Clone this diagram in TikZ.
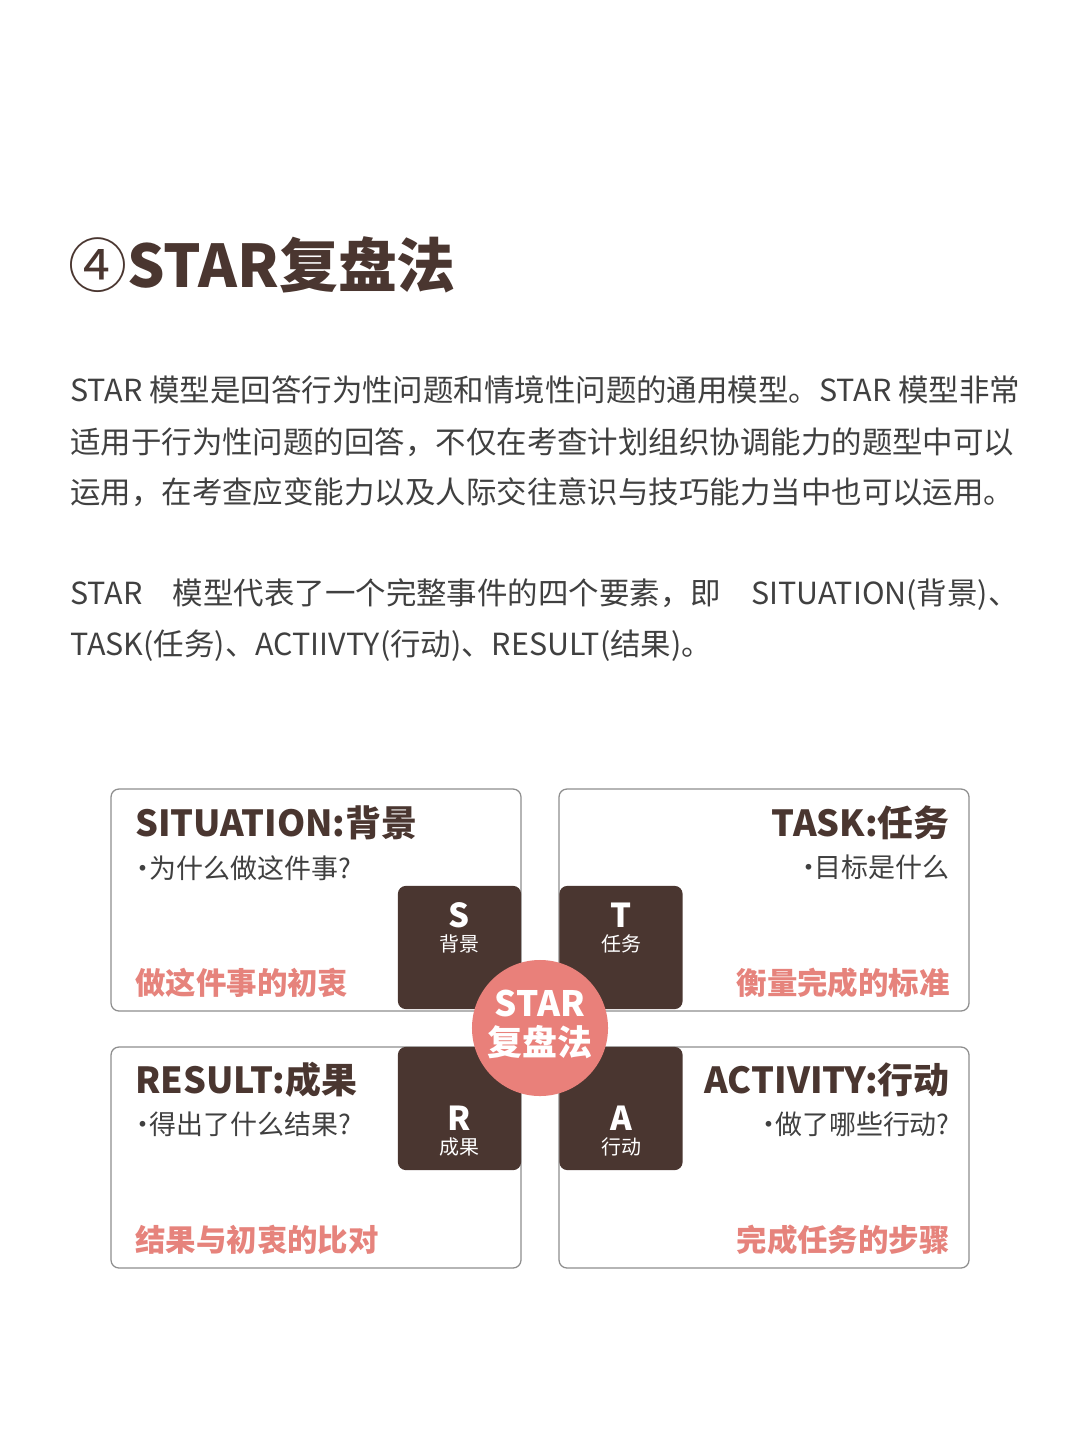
\documentclass[tikz,border=0pt]{standalone}
\usepackage{fontspec}
\setmainfont{Noto Sans CJK SC}
\usetikzlibrary{positioning}
\usepackage{xcolor}

\definecolor{brownD}{HTML}{4A3630}
\definecolor{pinkC}{HTML}{E9807A}
\definecolor{pinkT}{HTML}{E6837C}
\definecolor{bodyG}{HTML}{404040}
\definecolor{edgeG}{HTML}{8E8E8E}

% font size given in reference pixels
\newcommand{\fpx}[1]{\fontsize{\dimexpr #1pt*71/100\relax}{\dimexpr #1pt*85/100\relax}\selectfont}
\newcommand{\dotmark}{\makebox[0.45em]{·}}

\begin{document}
\begin{tikzpicture}[x=0.025cm, y=-0.025cm,
  bodyline/.style={anchor=west, inner sep=0pt, text=bodyG, font=\fpx{30.5}},
  panel/.style={draw=edgeG, line width=0.9pt, rounded corners=0.2cm, fill=white},
  headL/.style={anchor=west, inner sep=0pt, text=brownD, font=\fpx{36}\bfseries},
  headR/.style={headL, anchor=east},
  askL/.style={anchor=west, inner sep=0pt, text=bodyG, font=\fpx{27}},
  askR/.style={askL, anchor=east},
  keyL/.style={anchor=west, inner sep=0pt, text=pinkT, font=\fpx{30.5}\bfseries},
  keyR/.style={keyL, anchor=east},
  letterbox/.style={fill=brownD, rounded corners=0.2cm, minimum size=3.08cm, inner sep=0pt},
  letter/.style={text=white, inner sep=0pt, font=\fpx{33}\bfseries},
  lettersub/.style={text=white, inner sep=0pt, font=\fpx{20}},
  badgetext/.style={text=white, inner sep=0pt, font=\fpx{35}\bfseries}]

  \useasboundingbox[fill=white] (0,0) rectangle (1080,1440);

  % title
  \node[anchor=west, inner sep=0pt, text=brownD, font=\fpx{59}\bfseries] (title) at (68,265) {{\mdseries ④}STAR复盘法};

  % text
  \node[bodyline] (p1a) at (70,390) {STAR 模型是回答行为性问题和情境性问题的通用模型。STAR 模型非常};
  \node[bodyline] (p1b) at (70,442) {适用于行为性问题的回答，不仅在考查计划组织协调能力的题型中可以};
  \node[bodyline] (p1c) at (70,492) {运用，在考查应变能力以及人际交往意识与技巧能力当中也可以运用。};
  \node[bodyline] (p2a) at (70,595) {STAR\hspace{1em}模型代表了一个完整事件的四个要素，即\hspace{1em}SITUATION(背景)、};
  \node[bodyline] (p2b) at (70,646) {TASK(任务)、ACTIIVTY(行动)、RESULT(结果)。};

  % four panels
  \draw[panel] (111,789) rectangle (521,1011);
  \draw[panel] (559,789) rectangle (969,1011);
  \draw[panel] (111,1047) rectangle (521,1268);
  \draw[panel] (559,1047) rectangle (969,1268);

  \node[headL] (sitH) at (135,823) {SITUATION:背景};
  \node[askL] (sitQ) at (137,868) {\dotmark 为什么做这件事?};
  \node[keyL] (sitK) at (135,983) {做这件事的初衷};

  \node[headR] (tskH) at (950,823) {TASK:任务};
  \node[askR] (tskQ) at (950,867) {\dotmark 目标是什么};
  \node[keyR] (tskK) at (950,983) {衡量完成的标准};

  \node[headL] (resH) at (135,1080) {RESULT:成果};
  \node[askL] (resQ) at (137,1124) {\dotmark 得出了什么结果?};
  \node[keyL] (resK) at (135,1240) {结果与初衷的比对};

  \node[headR] (actH) at (950,1080) {ACTIVITY:行动};
  \node[askR] (actQ) at (950,1124) {\dotmark 做了哪些行动?};
  \node[keyR] (actK) at (950,1240) {完成任务的步骤};

  % letter squares
  \node[letterbox] (sqS) at (459.5,947.5) {};
  \node[letterbox] (sqT) at (621,947.5) {};
  \node[letterbox] (sqR) at (459.5,1108.5) {};
  \node[letterbox] (sqA) at (621,1108.5) {};

  \node[letter] (ltS) at (459.5,915) {S};
  \node[lettersub] (subS) at (459.5,944) {背景};
  \node[letter] (ltT) at (621,915) {T};
  \node[lettersub] (subT) at (621,944) {任务};
  \node[letter] (ltR) at (459.5,1118) {R};
  \node[lettersub] (subR) at (459.5,1147) {成果};
  \node[letter] (ltA) at (621,1118) {A};
  \node[lettersub] (subA) at (621,1147) {行动};

  % centre badge
  \node[circle, fill=pinkC, minimum size=3.4cm, inner sep=0pt] (badge) at (540,1028) {};
  \node[badgetext] (bdgA) at (540,1003) {STAR};
  \node[badgetext] (bdgB) at (540,1042) {复盘法};
\end{tikzpicture}
\end{document}
